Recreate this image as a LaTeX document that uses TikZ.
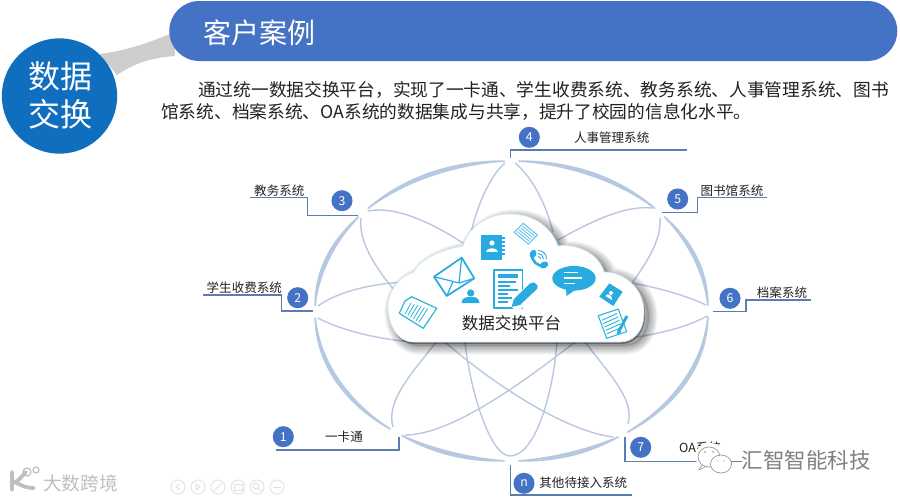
\documentclass[tikz,border=0pt]{standalone}
\usepackage{fontspec}
\setmainfont{Noto Sans CJK SC}
\usetikzlibrary{calc}
\definecolor{barblue}{HTML}{4472C4}
\definecolor{discblue}{HTML}{0F6FBE}
\definecolor{linkgrey}{HTML}{CDCDCD}
\definecolor{arcblue}{HTML}{B7C8E2}
\definecolor{petalblue}{HTML}{B9C8E0}
\definecolor{leaderblue}{HTML}{5B7DB1}
\definecolor{iconblue}{HTML}{29ABE2}
\definecolor{icontealblue}{HTML}{2DB6D6}
\definecolor{inktext}{HTML}{222222}
\newcommand{\fsz}[1]{\fontsize{#1}{#1}\selectfont}
% tapered arc of the big ellipse between two parameter angles
\newcommand{\ellarc}[2]{%
  \fill[arcblue] plot[domain=#1:#2,samples=30] ({511.5+(196.5+1.5*sin(180*(\x-#1)/(#2-#1))+.8)*cos(\x)},{311-(150+1.5*sin(180*(\x-#1)/(#2-#1))+.8)*sin(\x)})
   -- plot[domain=#2:#1,samples=30] ({511.5+(196.5-1.5*sin(180*(\x-#1)/(#2-#1))-.8)*cos(\x)},{311-(150-1.5*sin(180*(\x-#1)/(#2-#1))-.8)*sin(\x)}) -- cycle;}
\def\cloudpath{(413,342) .. controls (397,342) and (388,324) .. (388,307)
  .. controls (388,290) and (400,276) .. (414,272)
  .. controls (420,258) and (445,249) .. (463,246)
  .. controls (468,228) and (486,214) .. (510,214)
  .. controls (534,214) and (552,228) .. (558,246)
  .. controls (578,243) and (600,255) .. (604,272)
  .. controls (626,272) and (644,290) .. (644,312)
  .. controls (644,330) and (635,342) .. (620,342) -- cycle}
\tikzset{
  petal/.style={draw=petalblue,line width=1.05pt},
  leader/.style={draw=leaderblue,line width=.95pt},
  badge/.style={circle,fill=barblue,text=white,minimum size=15.8pt,inner sep=0pt,font=\fsz{9.2pt}},
  syslabel/.style={text=inktext,inner sep=0pt,font=\fsz{9.4pt}},
  iconline/.style={draw=iconblue,line width=.9pt,line join=round},
  iconfill/.style={fill=iconblue},
  whiteline/.style={draw=white,line width=.9pt},
  navring/.style={circle,draw=black!10,line width=.8pt,minimum size=10.5pt,inner sep=0pt},
}
\begin{document}
\begin{tikzpicture}[x=.75pt,y=-.75pt]
\useasboundingbox (0,0) rectangle (900,500);
\fill[white] (0,0) rectangle (900,500);

% header
\fill[linkgrey] (100,54) .. controls (130,50) and (150,42) .. (175,32) -- (175,56) .. controls (150,58) and (135,63) .. (117,75) -- cycle;
\node[fill=barblue,rounded corners=22.5pt,minimum width=546pt,minimum height=45pt,inner sep=0pt,anchor=west] (bar) at (169,31) {};
\node[anchor=west,text=white,inner sep=0pt,font=\fsz{21pt}] (title) at (203,33) {客户案例};
\node[circle,fill=discblue,minimum size=86.5pt,inner sep=0pt] (disc) at (59.5,96) {};
\node[text=white,inner sep=0pt,font=\fsz{24pt}] (d1) at (60,76) {数据};
\node[text=white,inner sep=0pt,font=\fsz{24pt}] (d2) at (60,114) {交换};

% body text
\node[anchor=west,text=inktext,inner sep=0pt,font=\fsz{13.28pt}] (line1) at (198,90) {通过统一数据交换平台，实现了一卡通、学生收费系统、教务系统、人事管理系统、图书};
\node[anchor=west,text=inktext,inner sep=0pt,font=\fsz{13.28pt}] (line2) at (161,112) {馆系统、档案系统、OA系统的数据集成与共享，提升了校园的信息化水平。};

% big ellipse arcs
\ellarc{92}{137}
\ellarc{141}{178}
\ellarc{182.5}{232}
\ellarc{236}{268}
\ellarc{272}{303}
\ellarc{306}{358}
\ellarc{2}{39}
\ellarc{43}{88}

% petals
\coordinate (h3a) at (368,211);
\coordinate (h3b) at (361,218);
\coordinate (h2a) at (318,306);
\coordinate (h2b) at (318,318);
\coordinate (h1a) at (393,427);
\coordinate (h1b) at (405,435);
\coordinate (hn) at (510,456);
\coordinate (h7a) at (613,437);
\coordinate (h7b) at (628,424);
\coordinate (h6a) at (707,316);
\coordinate (h6b) at (706,305);
\coordinate (h5a) at (660,218);
\coordinate (h5b) at (652,208);
\coordinate (h4a) at (515,163);
\coordinate (h4b) at (505,163);
\coordinate (cA) at (632,283);
\draw[petal] (h3a) .. controls (400,205) and (440,228) .. (466,245);
\draw[petal] (h3b) .. controls (358,240) and (375,268) .. (396,292);
\draw[petal] (h2a) .. controls (340,290) and (375,284) .. (402,282);
\draw[petal] (h2b) .. controls (340,330) and (380,340) .. (415,342);
\draw[petal] (h1a) .. controls (385,400) and (415,370) .. (436,342);
\draw[petal] (h1b) .. controls (450,435) and (520,385) .. (575,342);
\draw[petal] (hn) .. controls (490,456) and (470,390) .. (465,342);
\draw[petal] (hn) .. controls (535,456) and (553,395) .. (557,342);
\draw[petal] (h7a) .. controls (570,432) and (500,390) .. (445,342);
\draw[petal] (h7b) .. controls (635,400) and (610,375) .. (585,342);
\draw[petal] (h6a) .. controls (690,326) and (660,334) .. (630,338);
\draw[petal] (h6b) .. controls (690,297) and (660,288) .. (cA);
\draw[petal] (h5a) .. controls (662,240) and (645,265) .. (cA);
\draw[petal] (h5b) .. controls (625,205) and (590,222) .. (558,240);
\draw[petal] (h4a) .. controls (530,175) and (545,200) .. (553,232);
\draw[petal] (h4b) .. controls (490,175) and (475,210) .. (470,238);

% cloud with soft shadow
\foreach \i in {1,...,10}{
  \draw[black,opacity=.035,line width=\i*1.3pt,line join=round,shift={(5,4)}] \cloudpath;
}
\fill[black,opacity=.14,shift={(5,4)}] \cloudpath;
\fill[black,opacity=.4,shift={(1,2)}] \cloudpath;
\filldraw[fill=white,draw=iconblue!25,line width=.5pt] \cloudpath;
\node[text=inktext,inner sep=0pt,font=\fsz{12.4pt}] (cloudtext) at (511.5,323) {数据交换平台};

% icons: envelope
\draw[iconline,line width=1.3pt] (461.7,257.7) -- (474.3,278.3) -- (446.7,296) -- (434,276.7) -- cycle;
\draw[iconline] (434,276.7) -- (459,283) -- (461.7,257.7);
\draw[iconline] (446.7,296) -- (453,281.5);
\draw[iconline] (474.3,278.3) -- (459,283);
% person
\fill[iconblue] (470.7,293) circle (3.6);
\fill[iconblue] (461.5,303) .. controls (462,297) and (467,297) .. (470.7,297) .. controls (475,297) and (479,297) .. (479.5,303) -- cycle;
% big document with pencil
\draw[iconline,line width=1.2pt] (493.8,269.8) rectangle (522.5,308);
\fill[iconblue] (498,274) rectangle (518,278);
\foreach \yy/\xe in {282/516,286/510,290/518,294/508,298/512,302/508}{
  \draw[iconline,line width=1.1pt] (498,\yy) -- (\xe,\yy);
}
\fill[white] (509,305) -- (531,280) -- (541,288) -- (518,312) -- cycle;
\fill[iconblue] (511.5,307) -- (514,299) -- (530,283.5) .. controls (534,280) and (540,286) .. (537,289) -- (520,305) -- cycle;
% notebook top
\fill[iconblue] (481,234.5) rectangle (502,260);
\foreach \yy in {238,242,246,250,254}{\draw[iconline,line width=.8pt] (502,\yy) -- (505,\yy);}
\fill[white] (492,243) circle (2.6);
\fill[white] (486,252) .. controls (486,247) and (498,247) .. (498,252) -- cycle;
% rotated page top
\filldraw[fill=white,draw=iconblue!70,line width=.8pt] (523.3,223.3) -- (537.3,235) -- (528.3,244) -- (514.3,232.3) -- cycle;
\foreach \f in {.2,.4,.6,.8}{
  \draw[iconblue!75,line width=.6pt] ($(523.3,223.3)!\f!(514.3,232.3)+(1,1)$) -- ($(537.3,235)!\f!(528.3,244)+(-1,-1)$);
}
% phone
\draw[iconblue,line width=1.9pt,line cap=round] (532,254) .. controls (531,261) and (538,267) .. (545,266);
\fill[iconblue,rotate around={-25:(533,254)}] (533,254) ellipse (3.2 and 4.4);
\fill[iconblue,rotate around={-65:(544,265)}] (544,265) ellipse (3.2 and 4.4);
\draw[iconblue,line width=.7pt] (538,256.5) .. controls (539.5,256.5) and (540.5,257.5) .. (540.5,259);
\draw[iconblue,line width=.7pt] (538,253.5) .. controls (541,253.5) and (543.5,256) .. (543.5,259);
\draw[iconblue,line width=.7pt] (538,250.5) .. controls (543,250.5) and (546.5,254) .. (546.5,259);
% speech bubble
\fill[iconblue] (574,278.3) ellipse (21.7 and 12.3);
\fill[iconblue] (566,288) -- (566.5,296) -- (578,288) -- cycle;
\draw[whiteline] (564,272.5) -- (578,272.5);
\draw[whiteline] (564,278) -- (582,278);
\draw[whiteline] (564,283.5) -- (575,283.5);
% small notebook
\fill[iconblue] (609.3,283.3) -- (622.7,291.7) -- (613.3,306) -- (599.3,296.7) -- cycle;
\fill[white] (611,293) circle (2);
\fill[white] (605.5,296) .. controls (607,292) and (613,296) .. (612,300) -- cycle;
% small document with pencil
\filldraw[fill=white,draw=icontealblue,line width=.8pt] (598.3,315.7) -- (618.3,309) -- (626.7,331.7) -- (606.7,338.3) -- cycle;
\foreach \f in {.2,.35,.5,.65,.8}{
  \draw[icontealblue,line width=.7pt] ($(598.3,315.7)!\f!(606.7,338.3)+(2,0)$) -- ($(618.3,309)!\f!(626.7,331.7)+(-3,0)$);
}
\draw[iconblue,line width=2.2pt] (627,316) -- (619,331);
\fill[iconblue] (617,335) -- (617.5,329.5) -- (621.5,332) -- cycle;
% left document
\draw[icontealblue,line width=.9pt,line join=round] (411.7,296.7) -- (436.7,308.3) -- (423.3,328.3) -- (399.3,313.3) -- (405,301) -- cycle;
\foreach \f in {.15,.28,.41,.54,.67,.8}{
  \draw[icontealblue,line width=.6pt] ($(407,302)!\f!(433,310)$) -- ($(402,312)!\f!(423,325)$);
}

% leaders and labels
\coordinate (e3a) at (250,197.7); \coordinate (e3b) at (358.3,215.3);
\coordinate (e2a) at (203.3,295); \coordinate (e2b) at (313.3,311);
\coordinate (e4a) at (686.7,150); \coordinate (e4b) at (510.7,158.3);
\coordinate (e5a) at (767.3,197.3); \coordinate (e5b) at (662.3,212.3);
\coordinate (e6a) at (811,300); \coordinate (e6b) at (713.3,311.3);
\coordinate (e1a) at (276,450); \coordinate (e1b) at (399,436.7);
\coordinate (ena) at (631.7,495); \coordinate (enb) at (510.7,465);
\coordinate (e7a) at (741.7,461.7); \coordinate (e7b) at (625,437.3);
\draw[leader] (e3a) -- (307.3,197.7) -- (307.3,215.3) -- (e3b);
\draw[leader] (e2a) -- (281.7,295) -- (281.7,311) -- (e2b);
\draw[leader] (e4a) -- (510.7,150) -- (e4b);
\draw[leader] (e5a) -- (697.7,197.3) -- (697.7,212.3) -- (e5b);
\draw[leader] (e6a) -- (746,300) -- (746,311.3) -- (e6b);
\draw[leader] (e1a) -- (399,450) -- (e1b);
\draw[leader] (ena) -- (510.7,495) -- (enb);
\draw[leader] (e7a) -- (625,461.7) -- (e7b);
\node[badge] (b1) at (283.3,436.7) {1};
\node[badge] (b2) at (297.7,297.7) {2};
\node[badge] (b3) at (342,200.7) {3};
\node[badge] (b4) at (529.3,137.3) {4};
\node[badge] (b5) at (677.7,199) {5};
\node[badge] (b6) at (730,298.3) {6};
\node[badge] (b7) at (640.7,447.3) {7};
\node[badge] (bn) at (524,483.3) {n};
\node[syslabel] (l1) at (344,436.7) {一卡通};
\node[syslabel] (l2) at (244.3,287.7) {学生收费系统};
\node[syslabel] (l3) at (279.3,190.7) {教务系统};
\node[syslabel] (l4) at (611.7,137.3) {人事管理系统};
\node[syslabel] (l5) at (732,190.7) {图书馆系统};
\node[syslabel] (l6) at (782,292.7) {档案系统};
\node[syslabel] (l7) at (700,447.3) {OA系统};
\node[syslabel] (ln) at (583.3,482.7) {其他待接入系统};

% watermark right
\fill[white] (710,456) ellipse (15 and 13);
\filldraw[fill=white,draw=black!45,line width=.45pt] (709,457) ellipse (11 and 10);
\filldraw[fill=white,draw=black!45,line width=.45pt] (721,464) ellipse (10.5 and 9);
\draw[black!45,line width=.45pt] (702,465) -- (699,470) -- (705,467);
\fill[black!45] (705,452) circle (.8) (713,452) circle (.8) (718,461) circle (.7) (724,461) circle (.7);
\node[anchor=west,text=black!50,inner sep=0pt,font=\fsz{16.1pt}] (wm1) at (741.5,460) {汇智智能科技};

% watermark left
\draw[black!25,line width=2.8pt,line cap=round,line join=round] (12,472) -- (12,490) (26,472) .. controls (20,478) and (18,482) .. (14,482) .. controls (20,484) and (24,488) .. (34,488);
\draw[black!25,line width=.9pt] (27,472) circle (4) (36,470) circle (3);
\node[anchor=west,text=black!25,inner sep=0pt,font=\fsz{14pt}] (wm2) at (43,483.5) {大数跨境};
\foreach \cx/\nm in {178/a,198/b,218/c,238/d,257/e,277/f}{
  \node[navring] (nav\nm) at (\cx,487) {};
}
\draw[black!12,line width=.7pt] (180,484) -- (176,487) -- (180,490);
\draw[black!12,line width=.7pt] (196,484) -- (200,487) -- (196,490) -- cycle;
\draw[black!12,line width=.7pt] (214,491) -- (222,483);
\draw[black!12,line width=.7pt] (234,484) rectangle (242,490);
\draw[black!12,line width=.7pt] (256,486) circle (3) (258,488) -- (261,491);
\draw[black!12,line width=.7pt] (273,487) -- (281,487);
\end{tikzpicture}
\end{document}
